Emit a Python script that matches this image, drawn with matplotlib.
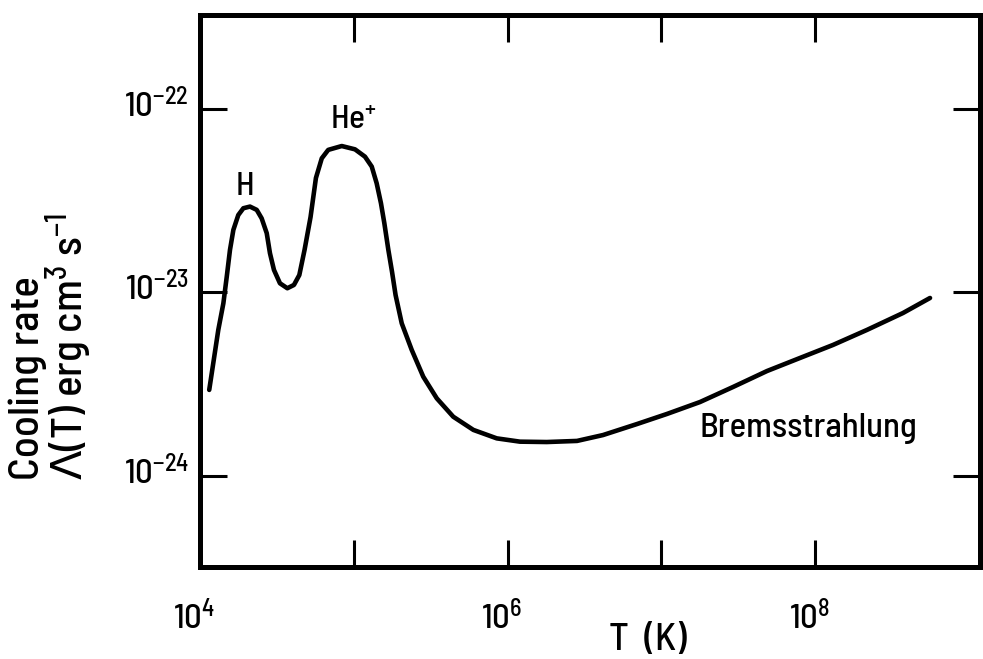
import numpy as np
import matplotlib
matplotlib.use("Agg")
import matplotlib.pyplot as plt
from matplotlib.ticker import FixedLocator, FixedFormatter, NullLocator
from matplotlib.transforms import ScaledTranslation

FAMILY = ["Barlow Semi Condensed", "DejaVu Sans"]
plt.rcParams["font.family"] = FAMILY
plt.rcParams["font.weight"] = "medium"
plt.rcParams["mathtext.default"] = "regular"

# cooling curve, log10 T [K] vs log10 Lambda [erg cm^3 s^-1]
log_T = [4.060, 4.119, 4.152, 4.174, 4.195, 4.217, 4.249, 4.282, 4.325,
         4.369, 4.401, 4.434, 4.455, 4.481, 4.520, 4.568, 4.611, 4.646, 4.680,
         4.719, 4.754, 4.792, 4.834, 4.922, 5.008, 5.073, 5.117, 5.149, 5.177,
         5.199, 5.225, 5.249, 5.272, 5.312, 5.377, 5.452, 5.540, 5.647, 5.778,
         5.930, 6.081, 6.255, 6.452, 6.621, 6.842, 7.037, 7.252, 7.467, 7.688,
         7.902, 8.117, 8.338, 8.572, 8.748]
log_L = [-23.531, -23.204, -23.059, -22.914, -22.768, -22.659, -22.578, -22.541, -22.532,
         -22.550, -22.596, -22.677, -22.786, -22.877, -22.950, -22.977, -22.959, -22.905, -22.768,
         -22.589, -22.376, -22.269, -22.223, -22.202, -22.220, -22.260, -22.314, -22.405, -22.514,
         -22.623, -22.768, -22.888, -23.014, -23.168, -23.313, -23.459, -23.577, -23.677, -23.749,
         -23.795, -23.813, -23.815, -23.809, -23.777, -23.717, -23.662, -23.597, -23.515, -23.428,
         -23.357, -23.286, -23.204, -23.112, -23.030]

x_ticks = [1e4, 1e5, 1e6, 1e7, 1e8]
x_ticklabels = ["$10^{4}$", "", "$10^{6}$", "", "$10^{8}$"]
y_ticks = [1e-24, 1e-23, 1e-22]
y_ticklabels = ["$10^{-24}$", "$10^{-23}$", "$10^{-22}$"]

T = 10 ** np.array(log_T)
L = 10 ** np.array(log_L)

fig = plt.figure(figsize=(9.83, 6.59), dpi=100)
ax = fig.add_axes([200 / 983, 92 / 659, 780 / 983, 552 / 659])

ax.plot(T, L, color="black", lw=3.3, solid_capstyle="round", solid_joinstyle="round")

ax.set_xscale("log")
ax.set_yscale("log")
ax.set_xlim(1e4, 10 ** 9.073)
ax.set_ylim(10 ** -24.496, 10 ** -21.488)

ax.xaxis.set_major_locator(FixedLocator(x_ticks))
ax.xaxis.set_major_formatter(FixedFormatter(x_ticklabels))
ax.yaxis.set_major_locator(FixedLocator(y_ticks))
ax.yaxis.set_major_formatter(FixedFormatter(y_ticklabels))
ax.xaxis.set_minor_locator(NullLocator())
ax.yaxis.set_minor_locator(NullLocator())

ax.tick_params(which="major", direction="in", length=19.5, width=2.2,
               top=True, right=True, labelsize=25, color="black")
ax.tick_params(axis="x", pad=24)
ax.tick_params(axis="y", pad=8)
for sp in ax.spines.values():
    sp.set_linewidth(3.6)

# nudge tick labels the way the hand lettering sits
for lab in ax.get_xticklabels():
    lab.set_transform(lab.get_transform() + ScaledTranslation(-0.06, 0, fig.dpi_scale_trans))
for lab in ax.get_yticklabels():
    lab.set_transform(lab.get_transform() + ScaledTranslation(0, 0.07, fig.dpi_scale_trans))

ax.text(10 ** 4.29, 10 ** -22.42, "H", fontsize=24, ha="center", va="center")
ax.text(10 ** 5.0, 10 ** -22.06, "He$^{+}$", fontsize=24, ha="center", va="center")
ax.text(10 ** 7.96, 10 ** -23.74, "Bremsstrahlung", fontsize=25, ha="center", va="center")

fig.text(648 / 983, 19 / 659, "T  (K)", fontsize=28, ha="center", va="center")
fig.text(28 / 983, 179 / 659, "Cooling rate", fontsize=31, rotation=90,
         ha="center", va="bottom")
fig.text(69 / 983, 179 / 659, r"$\mathrm{\Lambda}$(T) erg cm$^{3}$ s$^{-1}$", fontsize=31,
         rotation=90, ha="center", va="bottom")

fig.savefig("out.png", dpi=100)
